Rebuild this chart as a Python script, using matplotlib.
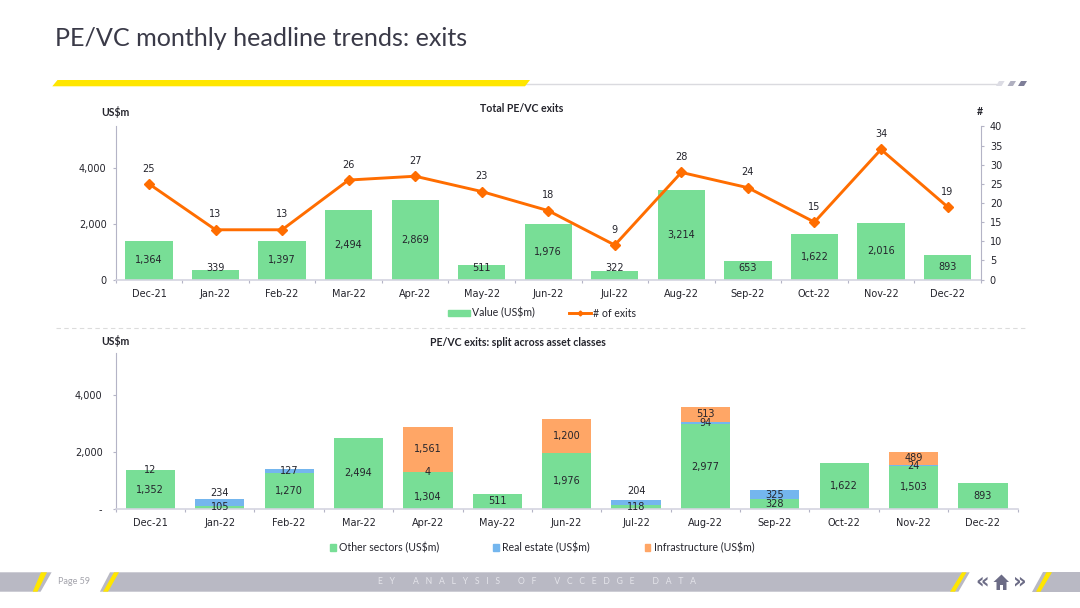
import matplotlib
matplotlib.use("Agg")
import matplotlib.pyplot as plt
from matplotlib.patches import Polygon, Patch
from matplotlib.lines import Line2D
from matplotlib.ticker import FixedLocator, FuncFormatter
from matplotlib.transforms import Affine2D

# ---------- data ----------
months = ["Dec-21", "Jan-22", "Feb-22", "Mar-22", "Apr-22", "May-22", "Jun-22",
          "Jul-22", "Aug-22", "Sep-22", "Oct-22", "Nov-22", "Dec-22"]
value_usd = [1364, 339, 1397, 2494, 2869, 511, 1976, 322, 3214, 653, 1622, 2016, 893]
num_exits = [25, 13, 13, 26, 27, 23, 18, 9, 28, 24, 15, 34, 19]
other_sectors = [1352, 105, 1270, 2494, 1304, 511, 1976, 118, 2977, 328, 1622, 1503, 893]
real_estate = [12, 234, 127, 0, 4, 0, 0, 204, 94, 325, 0, 24, 0]
infrastructure = [0, 0, 0, 0, 1561, 0, 1200, 0, 513, 0, 0, 489, 0]

# ---------- styles ----------
W, H = 1080, 608
GREEN, BLUE, ORANGE, LINE = "#78DE96", "#74B6EE", "#FFA666", "#FF6D00"
AXIS, TXT, BAND, YELLOW, ICON = "#B4B4C6", "#24242C", "#B9B9C4", "#FFE600", "#6C6C86"
NUM_SIZE, LEG_SIZE, HEAD_SIZE = 7.0, 7.6, 7.6
LBL_FONT, HEAD_FONT = "DejaVu Sans", "Lato"

fig = plt.figure(figsize=(W / 100, H / 100), dpi=100, facecolor="white")
px = Affine2D().scale(1 / W, -1 / H).translate(0, 1) + fig.transFigure


def axes_px(left, right, top, bottom):
    return fig.add_axes([left / W, 1 - bottom / H, (right - left) / W, (bottom - top) / H])


def poly(points, color, z=1):
    fig.add_artist(Polygon(points, closed=True, transform=px, facecolor=color, edgecolor="none", zorder=z))


def ftext(x, y, s, **kw):
    kw.setdefault("va", "center")
    kw.setdefault("ha", "left")
    kw.setdefault("color", TXT)
    fig.text(x / W, 1 - y / H, s, **kw)


def style_base(ax):
    ax.set_xlim(-0.5, len(months) - 0.5)
    ax.set_xticks(range(len(months)))
    ax.set_xticklabels(months, fontsize=NUM_SIZE, color=TXT, family=LBL_FONT)
    ax.xaxis.set_minor_locator(FixedLocator([i - 0.5 for i in range(len(months) + 1)]))
    ax.tick_params(axis="x", which="major", length=0, pad=7)
    ax.tick_params(axis="x", which="minor", length=2.5, color=AXIS, width=0.8)
    ax.tick_params(axis="y", length=2.5, color=AXIS, width=0.8, labelsize=NUM_SIZE, labelcolor=TXT, pad=4)
    for s in ("top", "right"):
        ax.spines[s].set_visible(False)
    ax.spines["left"].set_color(AXIS)
    ax.spines["bottom"].set_color("#D4D4E0")
    ax.spines["bottom"].set_linewidth(1.2)
    ax.patch.set_alpha(0)


# ---------- page furniture ----------
ftext(55, 38, "PE/VC monthly headline trends: exits", fontsize=18.1, family="Lato",
      color="#3A3A48", fontweight="regular")
fig.add_artist(Line2D([520 / W, 996 / W], [1 - 83.5 / H] * 2, color="#DADADF", lw=1))
poly([(52.3, 86.3), (57.5, 80), (530, 80), (525, 86.3)], YELLOW, 2)
poly([(996, 86), (999, 81), (1004.6, 81), (1001.6, 86)], "#DCDCE4")
poly([(1007.5, 86), (1010.5, 81), (1016, 81), (1013, 86)], "#B0B0C0")
poly([(1018, 86), (1021, 81), (1027, 81), (1024, 86)], "#7E7E98")
fig.add_artist(Line2D([56 / W, 1027 / W], [1 - 327.5 / H] * 2, color="#DCDCDC", lw=0.8, ls=(0, (4, 3))))

# footer band
BT, BB = 572.3, 591.7
poly([(0, BT), (51.6, BT), (40.6, BB), (0, BB)], BAND)
poly([(110, BT), (969.7, BT), (958.4, BB), (99.9, BB)], BAND)
poly([(1042.8, BT), (1080, BT), (1080, BB), (1031.7, BB)], BAND)
for a, b, c, d in [(41, 47, 32.7, 37.5), (114, 119, 103, 108), (962, 966.5, 950, 955), (1046.5, 1052, 1036, 1040.5)]:
    poly([(a, BT), (b, BT), (d, BB), (c, BB)], YELLOW, 2)
ftext(58.5, 582, "Page 59", fontsize=6.5, family="Lato", color="#A4A4AC")
footer_words = ["EY", "ANALYSIS", "OF", "VCCEDGE", "DATA"]
footer_text = (" " * 8).join((" " * 3).join(w) for w in footer_words)
ftext(536.5, 582, footer_text, fontsize=6.2, family="Lato", color="#E4E4EA", ha="center")
ftext(982, 581, "\u00ab", fontsize=15, family="DejaVu Sans", color=ICON, ha="center", fontweight="bold")
ftext(1020, 581, "\u00bb", fontsize=15, family="DejaVu Sans", color=ICON, ha="center", fontweight="bold")
poly([(993.5, 582), (1001.5, 574.5), (1009, 582), (1006.5, 582), (1006.5, 590), (1003, 590), (1003, 585),
      (1000, 585), (1000, 590), (996.5, 590), (996.5, 582)], ICON, 3)

# ---------- top chart ----------
ax1 = axes_px(115.7, 980.8, 126.5, 279.5)
style_base(ax1)
ax1.set_ylim(0, 5490)
ax1.set_yticks([0, 2000, 4000])
ax1.yaxis.set_major_formatter(FuncFormatter(lambda v, _: f"{int(v):,}"))
xs = range(len(months))
ax1.bar(xs, value_usd, width=0.71, color=GREEN, zorder=2)
LOW_LABEL_FLOOR = 412
for x, v in zip(xs, value_usd):
    ax1.text(x, max(v / 2, LOW_LABEL_FLOOR), f"{v:,}", ha="center", va="center", fontsize=NUM_SIZE,
             color=TXT, zorder=3, family=LBL_FONT)

ax1r = ax1.twinx()
ax1r.set_xlim(ax1.get_xlim())
ax1r.set_ylim(0, 40)
ax1r.set_yticks(range(0, 41, 5))
ax1r.tick_params(axis="y", length=2.5, color=AXIS, width=0.8, labelsize=NUM_SIZE, labelcolor=TXT, pad=4)
for s in ("top", "left", "bottom"):
    ax1r.spines[s].set_visible(False)
ax1r.spines["right"].set_color(AXIS)
ax1r.plot(xs, num_exits, color=LINE, lw=2.1, marker="D", ms=4.6, zorder=4, solid_capstyle="round")
for x, v in zip(xs, num_exits):
    ax1r.annotate(str(v), (x, v), xytext=(0, 11), textcoords="offset points", ha="center", va="center",
                  fontsize=NUM_SIZE, color=TXT, family=LBL_FONT)

ftext(101.5, 111.7, "US$m", fontsize=HEAD_SIZE, family="Lato", fontweight="bold")
ftext(522, 109, "Total PE/VC exits", fontsize=HEAD_SIZE, family=HEAD_FONT, fontweight="bold", ha="center")
ftext(979.7, 111.7, "#", fontsize=HEAD_SIZE, family="Lato", fontweight="bold", ha="center")

leg_top = ax1.legend(
    handles=[Patch(color=GREEN, label="Value (US$m)"),
             Line2D([], [], color=LINE, lw=2.1, marker="D", ms=2.5, label="# of exits")],
    loc="center", bbox_to_anchor=(542 / W, 1 - 313 / H), bbox_transform=fig.transFigure, ncol=2,
    frameon=False, prop={"family": "Lato", "size": LEG_SIZE}, handlelength=2.08, handleheight=0.55,
    handletextpad=0.25, columnspacing=3.15, borderpad=0, borderaxespad=0)
for t in leg_top.get_texts():
    t.set_color(TXT)

# ---------- bottom chart ----------
ax2 = axes_px(115.7, 1017.6, 353.3, 508.7)
style_base(ax2)
ax2.set_ylim(0, 5482)
ax2.set_yticks([0, 2000, 4000])
ax2.yaxis.set_major_formatter(FuncFormatter(lambda v, _: "-" if v == 0 else f"{int(v):,}"))
ax2.tick_params(axis="y", pad=7)
bottoms = [0] * len(months)
label_shift_pts = {(1, 1): 6.5, (7, 1): 8, (4, 0): -5}
for si, (vals, col) in enumerate([(other_sectors, GREEN), (real_estate, BLUE), (infrastructure, ORANGE)]):
    ax2.bar(xs, vals, bottom=bottoms, width=0.71, color=col, zorder=2)
    for x, v, b in zip(xs, vals, bottoms):
        if v:
            ax2.annotate(f"{v:,}", (x, b + v / 2), xytext=(0, label_shift_pts.get((x, si), 0)),
                         textcoords="offset points", ha="center", va="center", fontsize=NUM_SIZE,
                         color=TXT, zorder=3, family=LBL_FONT)
    bottoms = [b + v for b, v in zip(bottoms, vals)]

ftext(101.5, 341, "US$m", fontsize=HEAD_SIZE, family="Lato", fontweight="bold")
ftext(518, 342.3, "PE/VC exits: split across asset classes", fontsize=HEAD_SIZE, family=HEAD_FONT,
      fontweight="bold", ha="center")
leg_bot = ax2.legend(
    handles=[Patch(color=GREEN, label="Other sectors (US$m)"),
             Patch(color=BLUE, label="Real estate (US$m)"),
             Patch(color=ORANGE, label="Infrastructure (US$m)")],
    loc="center", bbox_to_anchor=(542 / W, 1 - 547.7 / H), bbox_transform=fig.transFigure, ncol=3,
    frameon=False, prop={"family": "Lato", "size": LEG_SIZE}, handlelength=0.55, handleheight=0.55,
    handletextpad=0.3, columnspacing=5.15, borderpad=0, borderaxespad=0)
for t in leg_bot.get_texts():
    t.set_color(TXT)

fig.savefig("out.png", dpi=100)
